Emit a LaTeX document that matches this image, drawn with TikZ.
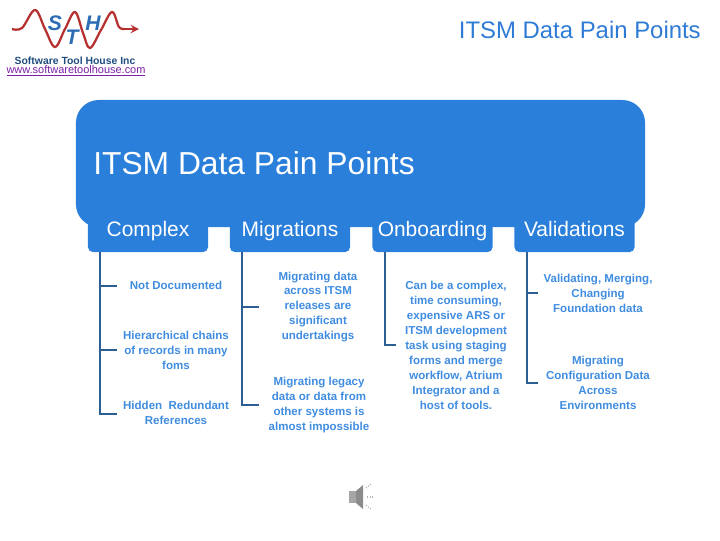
\documentclass[tikz,border=0pt]{standalone}
\usepackage{fontspec}
\setmainfont{Liberation Sans}
\usetikzlibrary{calc}

\definecolor{panelblue}{HTML}{2A7FDB}
\definecolor{itemblue}{HTML}{3F8CE0}
\definecolor{branchblue}{HTML}{2B5F94}
\definecolor{titleblue}{HTML}{2E7BD6}
\definecolor{wavered}{HTML}{B5302F}
\definecolor{logoblue}{HTML}{2C6DB5}
\definecolor{linkpurple}{HTML}{7A1FA8}

\tikzset{
    panel/.style={fill=panelblue, rounded corners=0.57cm, minimum width=14.225cm, minimum height=3.175cm, inner sep=0},
    tabbox/.style={fill=panelblue, text=white, rounded corners=0.12cm, minimum width=3cm, minimum height=1.125cm, inner sep=0, text height=13.3pt, text depth=3pt, font=\fontsize{14.9}{16}\selectfont},
    item/.style={text=itemblue, align=center, inner sep=0, font=\fontsize{8.2}{10.65}\selectfont\bfseries},
    branch/.style={draw=branchblue, line width=1.5pt},
    logoletter/.style={text=logoblue, inner sep=0, font=\fontsize{15}{16}\selectfont\bfseries\itshape},
}

\begin{document}
\begin{tikzpicture}[x=0.025cm, y=-0.025cm]
        \useasboundingbox (0, 0) rectangle (720, 540);

        % logo
        \draw[wavered, line width=1.6pt] plot[smooth, tension=0.6] coordinates {(12, 29) (22, 28) (35, 10) (45, 29) (55, 47) (65, 29) (75, 12) (83, 33) (90, 48) (101, 30) (112, 12) (119, 27) (125, 29)};
        \draw[wavered, line width=1.6pt, -stealth] (125, 29) -- (139, 29);
        \node[logoletter] (logoS) at (55, 23) {S};
        \node[logoletter] (logoT) at (72, 37) {T};
        \node[logoletter] (logoH) at (93, 23) {H};
        \node[inner sep=0, text=logoblue!70!black, font=\fontsize{7.4}{8}\selectfont\bfseries] (logoName) at (75, 60.5) {Software Tool House Inc};
        \node[inner sep=0, text=linkpurple, font=\fontsize{7.8}{8}\selectfont] (logoLink) at (76, 70.5) {\underline{www.softwaretoolhouse.com}};

        % titles
        \node[anchor=east, inner sep=0, text=titleblue, font=\fontsize{17}{20}\selectfont] (pageTitle) at (701, 30) {ITSM Data Pain Points};
        \node[panel] (panel) at (360.5, 163.5) {};
        \node[anchor=west, inner sep=0, text=white, font=\fontsize{22.6}{26}\selectfont] (panelTitle) at (93, 163) {ITSM Data Pain Points};

        % tabs
        \node[tabbox] (tabComplex) at (148, 229.5) {Complex};
        \node[tabbox] (tabMigrations) at (290, 229.5) {Migrations};
        \node[tabbox] (tabOnboarding) at (432.5, 229.5) {Onboarding};
        \node[tabbox] (tabValidations) at (574.5, 229.5) {Validations};

        % items
        \node[item] (notDocumented) at (176, 285) {Not Documented};
        \node[item] (chains) at (176, 350) {Hierarchical chains\\of records in many\\foms};
        \node[item] (hidden) at (176, 413) {Hidden\ \ Redundant\\References};
        \node[item] (migData) at (318, 307) {Migrating data\\across ITSM\\releases are\\significant\\undertakings};
        \node[item] (migLegacy) at (319, 405) {Migrating legacy\\data or data from\\other systems is\\almost impossible};
        \node[item] (onboard) at (456, 345.5) {Can be a complex,\\time consuming,\\expensive ARS or\\ITSM development\\task using staging\\forms and merge\\workflow, Atrium\\Integrator and a\\host of tools.};
        \node[item] (valMerge) at (598, 293) {Validating, Merging,\\Changing\\Foundation data};
        \node[item] (valConfig) at (598, 383) {Migrating\\Configuration Data\\Across\\Environments};

        % branches
        \coordinate (complexTop) at ($(tabComplex.south west)+(12, 0)$);
        \coordinate (complexA) at (117, 286);
        \coordinate (complexB) at (117, 350);
        \coordinate (complexC) at (117, 414);
        \draw[branch] (complexTop) |- (complexC);
        \draw[branch] (complexTop |- complexA) -- (complexA);
        \draw[branch] (complexTop |- complexB) -- (complexB);

        \coordinate (migrationsTop) at ($(tabMigrations.south west)+(12, 0)$);
        \coordinate (migrationsA) at (259, 307);
        \coordinate (migrationsB) at (259, 405);
        \draw[branch] (migrationsTop) |- (migrationsB);
        \draw[branch] (migrationsTop |- migrationsA) -- (migrationsA);

        \coordinate (onboardingTop) at ($(tabOnboarding.south west)+(13, 0)$);
        \coordinate (onboardingA) at (396, 345);
        \draw[branch] (onboardingTop) |- (onboardingA);

        \coordinate (validationsTop) at ($(tabValidations.south west)+(13, 0)$);
        \coordinate (validationsA) at (538, 293);
        \coordinate (validationsB) at (538, 383);
        \draw[branch] (validationsTop) |- (validationsB);
        \draw[branch] (validationsTop |- validationsA) -- (validationsA);

        % speaker
        \fill[black!35] (349, 491) rectangle (356, 503);
        \fill[black!45] (356, 491) -- (363, 485) -- (363, 509) -- (356, 503) -- cycle;
        \draw[black!30, densely dotted, line width=0.8pt] (366, 488) -- (371, 484);
        \draw[black!30, densely dotted, line width=0.8pt] (367, 497) -- (373, 497);
        \draw[black!30, densely dotted, line width=0.8pt] (366, 505) -- (371, 509);
    \end{tikzpicture}
\end{document}
